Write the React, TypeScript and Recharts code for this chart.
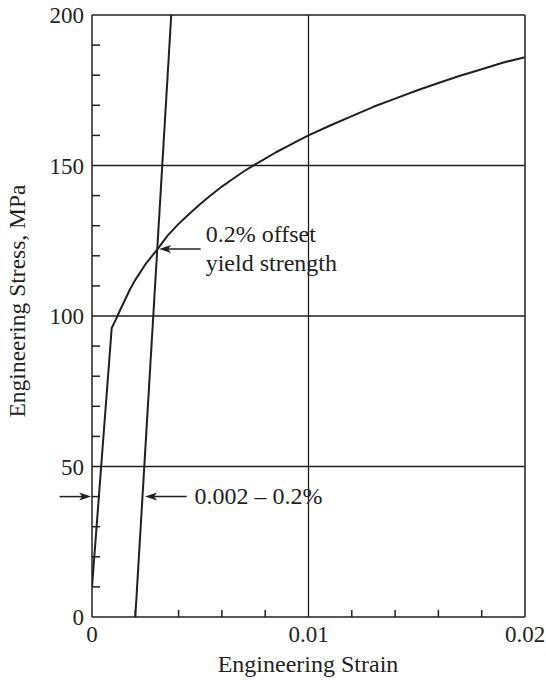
import { LineChart, Line, XAxis, YAxis, ReferenceLine } from 'recharts';

const strain = [
  0, 0.00091, 0.0011, 0.0013, 0.0015, 0.00175, 0.002, 0.0025, 0.003, 0.0035, 0.004, 0.0045, 0.005, 0.0055,
  0.006, 0.0065, 0.007, 0.0075, 0.008, 0.0085, 0.009, 0.0095, 0.01, 0.011, 0.012, 0.013, 0.014, 0.015,
  0.016, 0.017, 0.018, 0.019, 0.02,
];
const stress = [
  10, 96, 98.8, 102, 105, 108.8, 112, 117.5, 122, 126.8, 130.6, 134, 137.2, 140.2,
  143, 145.5, 148, 150.2, 152.3, 154.4, 156.3, 158.2, 160, 163.3, 166.4, 169.5, 172.2, 174.9,
  177.4, 179.8, 182, 184.2, 186,
];

const offsetStrain = [0.002, 0.00366];
const offsetStress = [0, 200];

const xTicks = [0, 0.01, 0.02];
const xMinorTicks = [0.002, 0.004, 0.006, 0.008, 0.012, 0.014, 0.016, 0.018];
const yTicks = [0, 50, 100, 150, 200];
const yMinorTicks = [10, 20, 30, 40, 60, 70, 80, 90, 110, 120, 130, 140, 160, 170, 180, 190];
const yGrid = [50, 100, 150];
const xGrid = [0.01];

const curveData = strain.map((s, i) => ({ strain: s, stress: stress[i] }));
const offsetData = offsetStrain.map((s, i) => ({ strain: s, stress: offsetStress[i] }));

const INK = '#231f20';
const FONT = '"Liberation Serif", "Times New Roman", serif';

// arrow pointing from (x1,y1) to (x2,y2), optional text next to its tail
const arrow = (lines: string[], dx: number, dy: number[]) => (p: any) => {
  const { x1, y1, x2, y2 } = p;
  const dir = x2 > x1 ? 1 : -1;
  const L = 12;
  const W = 4;
  const head = `${x2},${y2} ${x2 - dir * L},${y2 - W} ${x2 - dir * (L - 3)},${y2} ${x2 - dir * L},${y2 + W}`;
  return (
    <g>
      <line x1={x1} y1={y1} x2={x2 - dir * 4} y2={y2} stroke={INK} strokeWidth={1.5} />
      <polygon points={head} fill={INK} />
      {lines.map((t, i) => (
        <text key={i} x={x1 + dx} y={y1 + dy[i]} fontFamily={FONT} fontSize={24} fill={INK}>{t}</text>
      ))}
    </g>
  );
};

const noLabel = () => <g />;
const fmtX = (v: number) => (v === 0 ? '0' : v.toFixed(2));

export default function App() {
  return (
    <div style={{ position: 'absolute', left: 0, top: 0 }}>
      <LineChart width={546} height={680} margin={{ top: 15, right: 21, bottom: 0, left: 0 }}>
        <XAxis
          xAxisId="x"
          type="number"
          dataKey="strain"
          domain={[0, 0.02]}
          allowDataOverflow
          ticks={xTicks}
          interval={0}
          tickFormatter={fmtX}
          tickLine={false}
          tickSize={0}
          tickMargin={9}
          height={63}
          axisLine={{ stroke: INK, strokeWidth: 1.5 }}
          tick={{ fill: INK, fontFamily: FONT, fontSize: 23 }}
          label={() => (
            <text x={308} y={672} textAnchor="middle" fontFamily={FONT} fontSize={24} fill={INK}>Engineering Strain</text>
          )}
        />
        <XAxis
          xAxisId="minor"
          type="number"
          dataKey="strain"
          domain={[0, 0.02]}
          allowDataOverflow
          ticks={xMinorTicks}
          interval={0}
          mirror
          height={1}
          tick={noLabel}
          tickSize={7}
          tickLine={{ stroke: INK, strokeWidth: 1.5 }}
          axisLine={false}
        />
        <YAxis
          yAxisId="y"
          type="number"
          domain={[0, 200]}
          allowDataOverflow
          ticks={yTicks}
          interval={0}
          width={92}
          tickLine={false}
          tickSize={0}
          tickMargin={8}
          axisLine={{ stroke: INK, strokeWidth: 1.5 }}
          tick={{ fill: INK, fontFamily: FONT, fontSize: 23 }}
          label={() => (
            <text x={25} y={301} transform="rotate(-90 25 301)" textAnchor="middle" fontFamily={FONT} fontSize={23.5} fill={INK}>
              Engineering Stress, MPa
            </text>
          )}
        />
        <YAxis
          yAxisId="minor"
          type="number"
          domain={[0, 200]}
          allowDataOverflow
          ticks={yMinorTicks}
          interval={0}
          mirror
          width={1}
          tick={noLabel}
          tickSize={8}
          tickLine={{ stroke: INK, strokeWidth: 1.5 }}
          axisLine={false}
        />

        {yGrid.map((v) => (
          <ReferenceLine key={`h${v}`} xAxisId="x" yAxisId="y" y={v} stroke={INK} strokeWidth={1.3} />
        ))}
        {xGrid.map((v) => (
          <ReferenceLine key={`v${v}`} xAxisId="x" yAxisId="y" x={v} stroke={INK} strokeWidth={1.3} />
        ))}
        <ReferenceLine xAxisId="x" yAxisId="y" y={200} stroke={INK} strokeWidth={1.5} />
        <ReferenceLine xAxisId="x" yAxisId="y" x={0.02} stroke={INK} strokeWidth={1.5} />

        <Line
          xAxisId="x"
          yAxisId="y"
          data={curveData}
          dataKey="stress"
          type="linear"
          stroke={INK}
          strokeWidth={2}
          strokeLinejoin="round"
          dot={false}
          isAnimationActive={false}
        />
        <Line
          xAxisId="minor"
          yAxisId="minor"
          data={offsetData}
          dataKey="stress"
          type="linear"
          stroke={INK}
          strokeWidth={2}
          dot={false}
          isAnimationActive={false}
        />

        <ReferenceLine
          xAxisId="x"
          yAxisId="y"
          segment={[{ x: 0.00502, y: 122.3 }, { x: 0.0031, y: 122.3 }]}
          ifOverflow="visible"
          shape={arrow(['0.2% offset', 'yield strength'], 5, [-7, 22])}
        />
        <ReferenceLine
          xAxisId="x"
          yAxisId="y"
          segment={[{ x: 0.00437, y: 40 }, { x: 0.00245, y: 40 }]}
          ifOverflow="visible"
          shape={arrow(['0.002 \u2013 0.2%'], 8, [7])}
        />
        <ReferenceLine
          xAxisId="x"
          yAxisId="y"
          segment={[{ x: -0.0015, y: 40 }, { x: -0.00004, y: 40 }]}
          ifOverflow="visible"
          shape={arrow([], 0, [])}
        />
      </LineChart>
    </div>
  );
}
